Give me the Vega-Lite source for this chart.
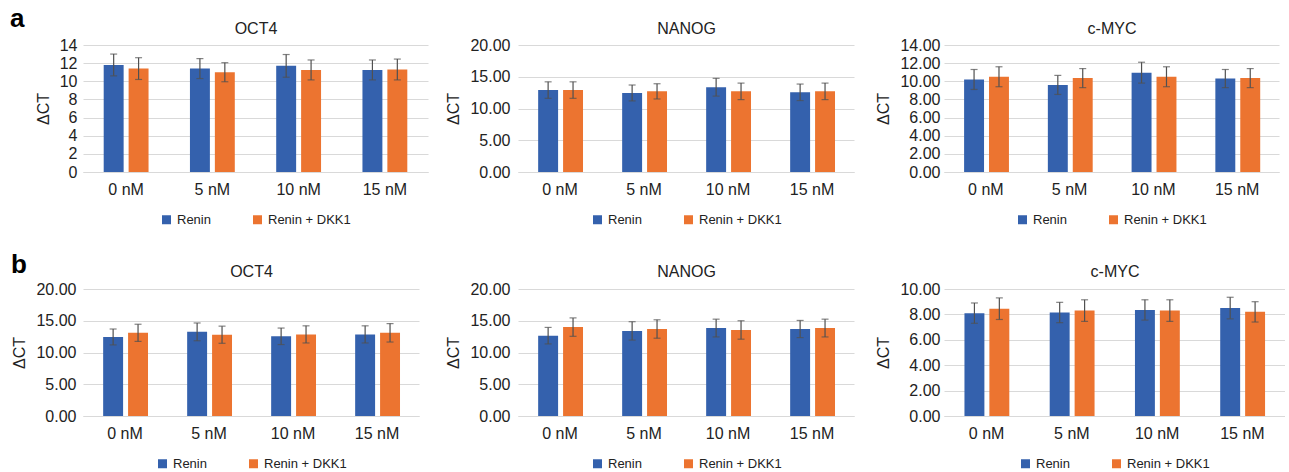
{
  "$schema": "https://vega.github.io/schema/vega-lite/v6.json",
  "padding": {"left": 10, "top": 6, "right": 0, "bottom": 0},
  "background": "white",
  "datasets": {
    "aOCT4": [
      {"conc": "0 nM", "series": "Renin", "v": 11.8, "e": 1.2},
      {"conc": "0 nM", "series": "Renin + DKK1", "v": 11.4, "e": 1.2},
      {"conc": "5 nM", "series": "Renin", "v": 11.4, "e": 1.1},
      {"conc": "5 nM", "series": "Renin + DKK1", "v": 11.0, "e": 1.05},
      {"conc": "10 nM", "series": "Renin", "v": 11.7, "e": 1.25},
      {"conc": "10 nM", "series": "Renin + DKK1", "v": 11.25, "e": 1.1},
      {"conc": "15 nM", "series": "Renin", "v": 11.25, "e": 1.1},
      {"conc": "15 nM", "series": "Renin + DKK1", "v": 11.3, "e": 1.15}
    ],
    "aNANOG": [
      {"conc": "0 nM", "series": "Renin", "v": 12.9, "e": 1.3},
      {"conc": "0 nM", "series": "Renin + DKK1", "v": 12.9, "e": 1.3},
      {"conc": "5 nM", "series": "Renin", "v": 12.45, "e": 1.25},
      {"conc": "5 nM", "series": "Renin + DKK1", "v": 12.7, "e": 1.2},
      {"conc": "10 nM", "series": "Renin", "v": 13.35, "e": 1.4},
      {"conc": "10 nM", "series": "Renin + DKK1", "v": 12.7, "e": 1.3},
      {"conc": "15 nM", "series": "Renin", "v": 12.55, "e": 1.3},
      {"conc": "15 nM", "series": "Renin + DKK1", "v": 12.7, "e": 1.3}
    ],
    "aMYC": [
      {"conc": "0 nM", "series": "Renin", "v": 10.2, "e": 1.1},
      {"conc": "0 nM", "series": "Renin + DKK1", "v": 10.5, "e": 1.1},
      {"conc": "5 nM", "series": "Renin", "v": 9.6, "e": 1.05},
      {"conc": "5 nM", "series": "Renin + DKK1", "v": 10.35, "e": 1.05},
      {"conc": "10 nM", "series": "Renin", "v": 10.95, "e": 1.15},
      {"conc": "10 nM", "series": "Renin + DKK1", "v": 10.5, "e": 1.1},
      {"conc": "15 nM", "series": "Renin", "v": 10.3, "e": 1.0},
      {"conc": "15 nM", "series": "Renin + DKK1", "v": 10.35, "e": 1.05}
    ],
    "bOCT4": [
      {"conc": "0 nM", "series": "Renin", "v": 12.45, "e": 1.25},
      {"conc": "0 nM", "series": "Renin + DKK1", "v": 13.1, "e": 1.35},
      {"conc": "5 nM", "series": "Renin", "v": 13.25, "e": 1.4},
      {"conc": "5 nM", "series": "Renin + DKK1", "v": 12.8, "e": 1.35},
      {"conc": "10 nM", "series": "Renin", "v": 12.55, "e": 1.3},
      {"conc": "10 nM", "series": "Renin + DKK1", "v": 12.85, "e": 1.35},
      {"conc": "15 nM", "series": "Renin", "v": 12.85, "e": 1.35},
      {"conc": "15 nM", "series": "Renin + DKK1", "v": 13.1, "e": 1.45}
    ],
    "bNANOG": [
      {"conc": "0 nM", "series": "Renin", "v": 12.65, "e": 1.3},
      {"conc": "0 nM", "series": "Renin + DKK1", "v": 14.0, "e": 1.45},
      {"conc": "5 nM", "series": "Renin", "v": 13.4, "e": 1.45},
      {"conc": "5 nM", "series": "Renin + DKK1", "v": 13.7, "e": 1.45},
      {"conc": "10 nM", "series": "Renin", "v": 13.85, "e": 1.4},
      {"conc": "10 nM", "series": "Renin + DKK1", "v": 13.55, "e": 1.45},
      {"conc": "15 nM", "series": "Renin", "v": 13.7, "e": 1.35},
      {"conc": "15 nM", "series": "Renin + DKK1", "v": 13.85, "e": 1.4}
    ],
    "bMYC": [
      {"conc": "0 nM", "series": "Renin", "v": 8.1, "e": 0.8},
      {"conc": "0 nM", "series": "Renin + DKK1", "v": 8.45, "e": 0.85},
      {"conc": "5 nM", "series": "Renin", "v": 8.15, "e": 0.8},
      {"conc": "5 nM", "series": "Renin + DKK1", "v": 8.3, "e": 0.85},
      {"conc": "10 nM", "series": "Renin", "v": 8.35, "e": 0.8},
      {"conc": "10 nM", "series": "Renin + DKK1", "v": 8.3, "e": 0.85},
      {"conc": "15 nM", "series": "Renin", "v": 8.5, "e": 0.85},
      {"conc": "15 nM", "series": "Renin + DKK1", "v": 8.2, "e": 0.8}
    ]
  },
  "columns": 3,
  "bounds": "flush",
  "spacing": {"column": 90, "row": 117},
  "resolve": {"scale": {"color": "independent"}, "legend": {"color": "independent"}},
  "concat": [
    {
      "width": 345, "height": 127,
      "title": {"text": "a", "anchor": "start", "frame": "group", "dx": -73, "offset": -12, "fontSize": 26, "fontWeight": "bold", "color": "#000"},
      "data": {"name": "aOCT4"},
      "resolve": {"axis": {"x": "independent"}},
      "layer": [
        {"mark": {"type": "bar"}, "encoding": {
          "x": {"field": "conc", "type": "nominal", "sort": ["0 nM", "5 nM", "10 nM", "15 nM"], "title": null, "scale": {"paddingInner": 0.48, "paddingOuter": 0.24}, "axis": {"orient": "bottom", "labelAngle": 0, "domain": true, "domainColor": "#d9d9d9", "labelPadding": 9}},
          "xOffset": {"field": "series", "type": "nominal", "sort": ["Renin", "Renin + DKK1"], "scale": {"paddingInner": 0.2, "paddingOuter": 0}},
          "y": {"field": "v", "type": "quantitative", "title": "ΔCT", "scale": {"domain": [0, 14]}, "axis": {"values": [0, 2, 4, 6, 8, 10, 12, 14], "format": "d", "labelPadding": 6}},
          "color": {"field": "series", "type": "nominal", "sort": ["Renin", "Renin + DKK1"], "scale": {"domain": ["Renin", "Renin + DKK1"], "range": ["#3461ad", "#ec7430"]}, "legend": {}}}},
        {"mark": {"type": "errorbar", "ticks": true, "size": 7, "thickness": 1.2, "color": "#505050"}, "encoding": {
          "x": {"field": "conc", "type": "nominal", "sort": ["0 nM", "5 nM", "10 nM", "15 nM"], "title": "OCT4", "axis": {"orient": "top", "labels": false, "domain": false, "titlePadding": 9, "titleFontSize": 16}},
          "xOffset": {"field": "series", "type": "nominal", "sort": ["Renin", "Renin + DKK1"]},
          "y": {"field": "v", "type": "quantitative", "title": "ΔCT", "axis": {"values": [0, 2, 4, 6, 8, 10, 12, 14], "format": "d", "labelPadding": 6}}, "yError": {"field": "e"}}}
      ]
    },
    {
      "width": 336, "height": 127,
      "data": {"name": "aNANOG"},
      "resolve": {"axis": {"x": "independent"}},
      "layer": [
        {"mark": {"type": "bar"}, "encoding": {
          "x": {"field": "conc", "type": "nominal", "sort": ["0 nM", "5 nM", "10 nM", "15 nM"], "title": null, "scale": {"paddingInner": 0.48, "paddingOuter": 0.24}, "axis": {"orient": "bottom", "labelAngle": 0, "domain": true, "domainColor": "#d9d9d9", "labelPadding": 9}},
          "xOffset": {"field": "series", "type": "nominal", "sort": ["Renin", "Renin + DKK1"], "scale": {"paddingInner": 0.2, "paddingOuter": 0}},
          "y": {"field": "v", "type": "quantitative", "title": "ΔCT", "scale": {"domain": [0, 20]}, "axis": {"values": [0, 5, 10, 15, 20], "format": ".2f", "labelPadding": 8}},
          "color": {"field": "series", "type": "nominal", "sort": ["Renin", "Renin + DKK1"], "scale": {"domain": ["Renin", "Renin + DKK1"], "range": ["#3461ad", "#ec7430"]}, "legend": {}}}},
        {"mark": {"type": "errorbar", "ticks": true, "size": 7, "thickness": 1.2, "color": "#505050"}, "encoding": {
          "x": {"field": "conc", "type": "nominal", "sort": ["0 nM", "5 nM", "10 nM", "15 nM"], "title": "NANOG", "axis": {"orient": "top", "labels": false, "domain": false, "titlePadding": 9, "titleFontSize": 16}},
          "xOffset": {"field": "series", "type": "nominal", "sort": ["Renin", "Renin + DKK1"]},
          "y": {"field": "v", "type": "quantitative", "title": "ΔCT", "axis": {"values": [0, 5, 10, 15, 20], "format": ".2f", "labelPadding": 8}}, "yError": {"field": "e"}}}
      ]
    },
    {
      "width": 335, "height": 127,
      "data": {"name": "aMYC"},
      "resolve": {"axis": {"x": "independent"}},
      "layer": [
        {"mark": {"type": "bar"}, "encoding": {
          "x": {"field": "conc", "type": "nominal", "sort": ["0 nM", "5 nM", "10 nM", "15 nM"], "title": null, "scale": {"paddingInner": 0.48, "paddingOuter": 0.24}, "axis": {"orient": "bottom", "labelAngle": 0, "domain": true, "domainColor": "#d9d9d9", "labelPadding": 9}},
          "xOffset": {"field": "series", "type": "nominal", "sort": ["Renin", "Renin + DKK1"], "scale": {"paddingInner": 0.2, "paddingOuter": 0}},
          "y": {"field": "v", "type": "quantitative", "title": "ΔCT", "scale": {"domain": [0, 14]}, "axis": {"values": [0, 2, 4, 6, 8, 10, 12, 14], "format": ".2f", "labelPadding": 4}},
          "color": {"field": "series", "type": "nominal", "sort": ["Renin", "Renin + DKK1"], "scale": {"domain": ["Renin", "Renin + DKK1"], "range": ["#3461ad", "#ec7430"]}, "legend": {}}}},
        {"mark": {"type": "errorbar", "ticks": true, "size": 7, "thickness": 1.2, "color": "#505050"}, "encoding": {
          "x": {"field": "conc", "type": "nominal", "sort": ["0 nM", "5 nM", "10 nM", "15 nM"], "title": "c-MYC", "axis": {"orient": "top", "labels": false, "domain": false, "titlePadding": 9, "titleFontSize": 16}},
          "xOffset": {"field": "series", "type": "nominal", "sort": ["Renin", "Renin + DKK1"]},
          "y": {"field": "v", "type": "quantitative", "title": "ΔCT", "axis": {"values": [0, 2, 4, 6, 8, 10, 12, 14], "format": ".2f", "labelPadding": 4}}, "yError": {"field": "e"}}}
      ]
    },
    {
      "width": 336, "height": 127,
      "title": {"text": "b", "anchor": "start", "frame": "group", "dx": -72, "offset": -15, "fontSize": 26, "fontWeight": "bold", "color": "#000"},
      "data": {"name": "bOCT4"},
      "resolve": {"axis": {"x": "independent"}},
      "layer": [
        {"mark": {"type": "bar"}, "encoding": {
          "x": {"field": "conc", "type": "nominal", "sort": ["0 nM", "5 nM", "10 nM", "15 nM"], "title": null, "scale": {"paddingInner": 0.48, "paddingOuter": 0.24}, "axis": {"orient": "bottom", "labelAngle": 0, "domain": true, "domainColor": "#d9d9d9", "labelPadding": 9}},
          "xOffset": {"field": "series", "type": "nominal", "sort": ["Renin", "Renin + DKK1"], "scale": {"paddingInner": 0.2, "paddingOuter": 0}},
          "y": {"field": "v", "type": "quantitative", "title": "ΔCT", "scale": {"domain": [0, 20]}, "axis": {"values": [0, 5, 10, 15, 20], "format": ".2f", "labelPadding": 7}},
          "color": {"field": "series", "type": "nominal", "sort": ["Renin", "Renin + DKK1"], "scale": {"domain": ["Renin", "Renin + DKK1"], "range": ["#3461ad", "#ec7430"]}, "legend": {}}}},
        {"mark": {"type": "errorbar", "ticks": true, "size": 7, "thickness": 1.2, "color": "#505050"}, "encoding": {
          "x": {"field": "conc", "type": "nominal", "sort": ["0 nM", "5 nM", "10 nM", "15 nM"], "title": "OCT4", "axis": {"orient": "top", "labels": false, "domain": false, "titlePadding": 10, "titleFontSize": 16}},
          "xOffset": {"field": "series", "type": "nominal", "sort": ["Renin", "Renin + DKK1"]},
          "y": {"field": "v", "type": "quantitative", "title": "ΔCT", "axis": {"values": [0, 5, 10, 15, 20], "format": ".2f", "labelPadding": 7}}, "yError": {"field": "e"}}}
      ]
    },
    {
      "width": 336, "height": 127,
      "data": {"name": "bNANOG"},
      "resolve": {"axis": {"x": "independent"}},
      "layer": [
        {"mark": {"type": "bar"}, "encoding": {
          "x": {"field": "conc", "type": "nominal", "sort": ["0 nM", "5 nM", "10 nM", "15 nM"], "title": null, "scale": {"paddingInner": 0.48, "paddingOuter": 0.24}, "axis": {"orient": "bottom", "labelAngle": 0, "domain": true, "domainColor": "#d9d9d9", "labelPadding": 9}},
          "xOffset": {"field": "series", "type": "nominal", "sort": ["Renin", "Renin + DKK1"], "scale": {"paddingInner": 0.2, "paddingOuter": 0}},
          "y": {"field": "v", "type": "quantitative", "title": "ΔCT", "scale": {"domain": [0, 20]}, "axis": {"values": [0, 5, 10, 15, 20], "format": ".2f", "labelPadding": 8}},
          "color": {"field": "series", "type": "nominal", "sort": ["Renin", "Renin + DKK1"], "scale": {"domain": ["Renin", "Renin + DKK1"], "range": ["#3461ad", "#ec7430"]}, "legend": {}}}},
        {"mark": {"type": "errorbar", "ticks": true, "size": 7, "thickness": 1.2, "color": "#505050"}, "encoding": {
          "x": {"field": "conc", "type": "nominal", "sort": ["0 nM", "5 nM", "10 nM", "15 nM"], "title": "NANOG", "axis": {"orient": "top", "labels": false, "domain": false, "titlePadding": 10, "titleFontSize": 16}},
          "xOffset": {"field": "series", "type": "nominal", "sort": ["Renin", "Renin + DKK1"]},
          "y": {"field": "v", "type": "quantitative", "title": "ΔCT", "axis": {"values": [0, 5, 10, 15, 20], "format": ".2f", "labelPadding": 8}}, "yError": {"field": "e"}}}
      ]
    },
    {
      "width": 341, "height": 127,
      "data": {"name": "bMYC"},
      "resolve": {"axis": {"x": "independent"}},
      "layer": [
        {"mark": {"type": "bar"}, "encoding": {
          "x": {"field": "conc", "type": "nominal", "sort": ["0 nM", "5 nM", "10 nM", "15 nM"], "title": null, "scale": {"paddingInner": 0.48, "paddingOuter": 0.24}, "axis": {"orient": "bottom", "labelAngle": 0, "domain": true, "domainColor": "#d9d9d9", "labelPadding": 9}},
          "xOffset": {"field": "series", "type": "nominal", "sort": ["Renin", "Renin + DKK1"], "scale": {"paddingInner": 0.2, "paddingOuter": 0}},
          "y": {"field": "v", "type": "quantitative", "title": "ΔCT", "scale": {"domain": [0, 10]}, "axis": {"values": [0, 2, 4, 6, 8, 10], "format": ".2f", "labelPadding": 4}},
          "color": {"field": "series", "type": "nominal", "sort": ["Renin", "Renin + DKK1"], "scale": {"domain": ["Renin", "Renin + DKK1"], "range": ["#3461ad", "#ec7430"]}, "legend": {}}}},
        {"mark": {"type": "errorbar", "ticks": true, "size": 7, "thickness": 1.2, "color": "#505050"}, "encoding": {
          "x": {"field": "conc", "type": "nominal", "sort": ["0 nM", "5 nM", "10 nM", "15 nM"], "title": "c-MYC", "axis": {"orient": "top", "labels": false, "domain": false, "titlePadding": 10, "titleFontSize": 16}},
          "xOffset": {"field": "series", "type": "nominal", "sort": ["Renin", "Renin + DKK1"]},
          "y": {"field": "v", "type": "quantitative", "title": "ΔCT", "axis": {"values": [0, 2, 4, 6, 8, 10], "format": ".2f", "labelPadding": 4}}, "yError": {"field": "e"}}}
      ]
    }
  ],
  "config": {
    "font": "Liberation Sans",
    "view": {"stroke": null},
    "axis": {"labelFontSize": 16, "labelColor": "#222", "titleFontSize": 16, "titleFontWeight": "normal", "titleColor": "#222", "gridColor": "#d9d9d9", "domain": false, "ticks": false, "tickSize": 0, "labelOverlap": false, "labelFlush": false, "labelBound": false},
    "axisX": {"grid": false},
    "axisY": {"titlePadding": 8, "grid": true},
    "title": {"fontSize": 16, "fontWeight": "normal", "color": "#222"},
    "legend": {"orient": "bottom", "direction": "horizontal", "title": null, "symbolType": "square", "symbolSize": 81, "symbolStrokeWidth": 0, "labelFontSize": 13, "labelColor": "#222", "columnPadding": 40, "labelOffset": 4, "offset": 16, "layout": {"bottom": {"anchor": "middle"}}}
  }
}
